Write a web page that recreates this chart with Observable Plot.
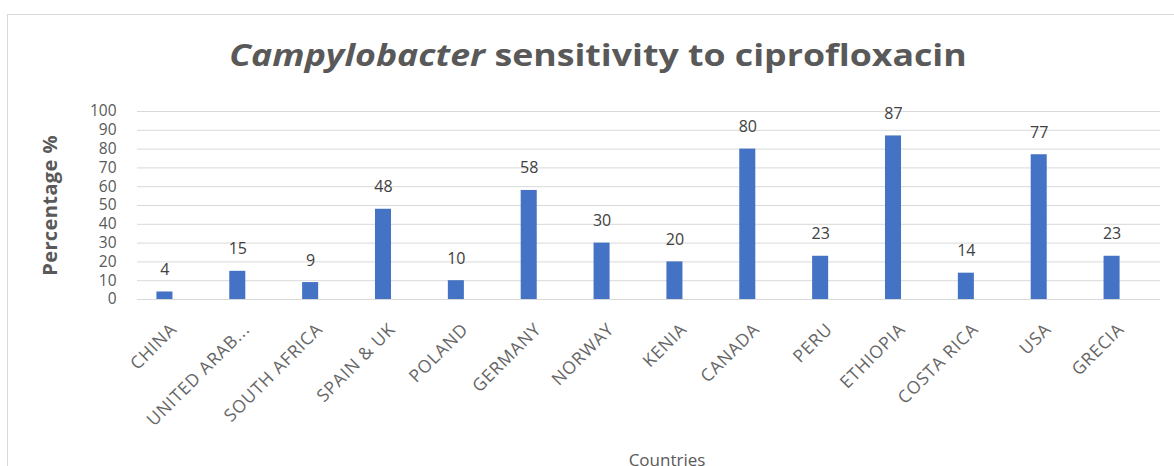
<!DOCTYPE html>
<html>
<head>
<meta charset="utf-8">
<script src="https://cdn.jsdelivr.net/npm/d3@7"></script>
<script src="https://cdn.jsdelivr.net/npm/@observablehq/plot@0.6"></script>
<style>
  html, body { margin: 0; padding: 0; background: #fff; }
  #wrap { position: relative; width: 1174px; height: 466px; overflow: hidden; font-family: "Open Sans", sans-serif; }
  #frame { position: absolute; left: 7px; top: 14px; width: 1200px; height: 500px;
           border-left: 1.5px solid #d9d9d9; border-top: 1.5px solid #d9d9d9; }
  #title { position: absolute; left: 598px; top: 34px; white-space: nowrap;
           transform: translateX(-50%) scaleX(1.21);
           font-family: "Open Sans", sans-serif; font-weight: 700; font-size: 29.5px; color: #595959; }
  #chart { position: absolute; left: 0; top: 0; }
  #chart svg [aria-label="y-axis label"] text { font-weight: 700; font-size: 20px; fill: #595959; letter-spacing: 0.4px; }
  #chart svg [aria-label="x-axis tick label"] text { letter-spacing: 0.8px; }
</style>
</head>
<body>
<div id="wrap">
  <div id="frame"></div>
  <div id="chart"></div>
  <div id="title"><i>Campylobacter</i> sensitivity to ciprofloxacin</div>
</div>
<script>
const countries = ["CHINA", "UNITED ARAB...", "SOUTH AFRICA", "SPAIN & UK", "POLAND", "GERMANY", "NORWAY", "KENIA", "CANADA", "PERU", "ETHIOPIA", "COSTA RICA", "USA", "GRECIA"];
const values = [4, 15, 9, 48, 10, 58, 30, 20, 80, 23, 87, 14, 77, 23];
const yTicks = [0, 10, 20, 30, 40, 50, 60, 70, 80, 90, 100];
const xTitle = ["Countries"];

const data = countries.map((c, i) => ({country: c, value: values[i]}));

const chart = Plot.plot({
  width: 1174,
  height: 466,
  marginLeft: 137,
  marginRight: 14,
  marginTop: 111,
  marginBottom: 167,
  style: {fontFamily: "Open Sans, sans-serif", color: "#595959", background: "transparent", overflow: "visible"},
  x: {domain: countries, range: [128, 1148], paddingInner: 0.78, paddingOuter: 0.39, round: false, label: null},
  y: {domain: [0, 100], label: null},
  marks: [
    Plot.gridY(yTicks, {stroke: "#d9d9d9", strokeOpacity: 1}),
    Plot.barY(data, {x: "country", y: "value", fill: "#4472C4"}),
    Plot.text(data, {x: "country", y: "value", text: d => String(d.value), dy: -17, lineAnchor: "bottom", fontSize: 16, fill: "#404040"}),
    Plot.axisY(yTicks, {tickSize: 0, tickPadding: 21, fontSize: 15.5, fill: "#595959", label: "Percentage %", labelArrow: "none", labelAnchor: "center", labelOffset: 95, tickFormat: d => String(d)}),
    Plot.axisX({tickSize: 0, tickRotate: -45, tickPadding: 27, dx: 9, fontSize: 17.5, fill: "#666666", label: null}),
    Plot.text(xTitle, {frameAnchor: "bottom", text: d => d, dx: 18, dy: 154, lineAnchor: "top", fontSize: 17, fill: "#595959"})
  ]
});
document.getElementById("chart").appendChild(chart);
</script>
</body>
</html>
